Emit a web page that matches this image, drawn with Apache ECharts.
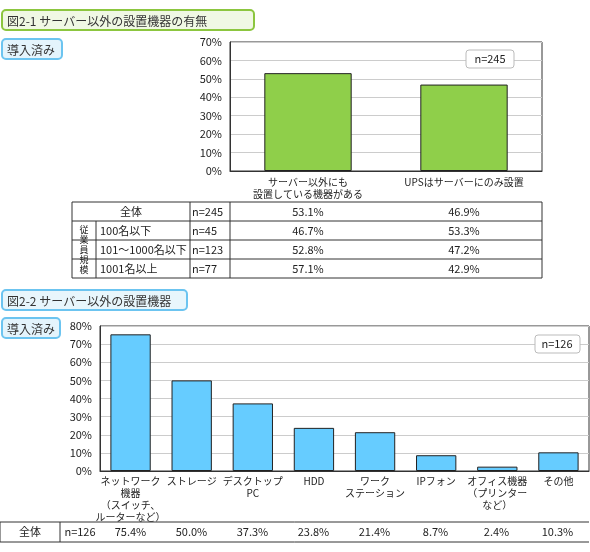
<!DOCTYPE html><html><head><meta charset="utf-8">
<script src="https://cdn.jsdelivr.net/npm/echarts@6/dist/echarts.min.js"></script>
<style>body{margin:0;background:#fff}#c{width:590px;height:552px}</style></head><body><div id="c"></div>
<script>
const cats1=['サーバー以外にも\n設置している機器がある','UPSはサーバーにのみ設置'];
const vals1=[53.1,46.9];
const rows1=[['全体','n=245',['53.1%','46.9%']],['100名以下','n=45',['46.7%','53.3%']],['101～1000名以下','n=123',['52.8%','47.2%']],['1001名以上','n=77',['57.1%','42.9%']]];
const cats2=['ネットワーク\n機器\n（スイッチ、\nルーターなど）','ストレージ','デスクトップ\nPC','HDD','ワーク\nステーション','IPフォン','オフィス機器\n（プリンター\nなど）','その他'];
const vals2=[75.4,50.0,37.3,23.8,21.4,8.7,2.4,10.3];
const tbl2=['75.4%','50.0%','37.3%','23.8%','21.4%','8.7%','2.4%','10.3%'];
const F='"Noto Sans CJK JP",sans-serif';
const ch=echarts.init(document.getElementById('c'));
const G=[];
function line(x1,y1,x2,y2){G.push({type:'line',z:100,shape:{x1,y1,x2,y2},style:{stroke:'#333',lineWidth:1}});}
function txt(x,y,t,align){G.push({type:'text',z:101,x,y,style:{text:t,font:'11px '+F,fill:'#222',align:align||'center',verticalAlign:'middle'}});}
function box(x,y,w,h,stroke,fill,t,fs){G.push({type:'rect',z:100,shape:{x,y,width:w,height:h,r:4},style:{stroke,fill,lineWidth:2}});
 G.push({type:'text',z:101,x:x+5,y:y+h/2+1,style:{text:t,font:(fs||12)+'px '+F,fill:'#333',verticalAlign:'middle'}});}
box(2,10,252,20,'#8cc63f','#f0f8e4','図2-1 サーバー以外の設置機器の有無');
box(2,39,60,20,'#6cc4f0','#e4f4fc','導入済み');
box(2,290,185,20,'#6cc4f0','#e8f6fc','図2-2 サーバー以外の設置機器');
box(2,318,58,20,'#6cc4f0','#e4f4fc','導入済み');
G.push({type:'rect',z:100,shape:{x:466,y:50,width:48,height:18,r:3},style:{stroke:'#bbb',fill:'#fff'}});txt(490,59,'n=245');
G.push({type:'rect',z:100,shape:{x:535,y:335,width:45,height:18,r:3},style:{stroke:'#bbb',fill:'#fff'}});txt(557,344,'n=126');
const ys=[202,221,240,259,278];
ys.forEach(y=>line(72,y,542,y));
line(72,202,72,278);line(96,221,96,278);line(190,202,190,278);line(230,202,230,278);line(542,202,542,278);
rows1.forEach((r,i)=>{const yc=(ys[i]+ys[i+1])/2;
 if(i==0)txt(131,yc,r[0]);else txt(100,yc,r[0],'left');
 txt(192,yc,r[1],'left');
 r[2].forEach((v,j)=>txt(230+156*j+78,yc,v));});
G.push({type:'text',z:101,x:84,y:250,style:{text:'従\n業\n員\n規\n模',font:'9px '+F,fill:'#222',align:'center',verticalAlign:'middle',lineHeight:10}});
line(0,522,589,522);line(0,542,589,542);line(0,522,0,542);line(60,522,60,542);
txt(30,532,'全体');txt(80,532,'n=126');
tbl2.forEach((v,i)=>txt(100+61*i+30.5,532,v));
const yl={fontFamily:F,fontSize:11,color:'#222',formatter:'{value}%'};
ch.setOption({animation:false,
 grid:[{left:230,right:48,top:42,bottom:381,show:true,borderColor:'#333'},{left:100,right:1,top:326,bottom:81,show:true,borderColor:'#333'}],
 xAxis:[{gridIndex:0,type:'category',data:cats1,axisLine:{lineStyle:{color:'#333'}},axisTick:{length:31,lineStyle:{color:'#333'}},axisLabel:{interval:0,fontFamily:F,fontSize:10,color:'#222',lineHeight:12,margin:5}},
  {gridIndex:1,type:'category',data:cats2,axisLine:{lineStyle:{color:'#333'}},axisTick:{length:71,lineStyle:{color:'#333'}},axisLabel:{interval:0,fontFamily:F,fontSize:10,color:'#222',lineHeight:12,margin:4,verticalAlign:'top'}}],
 yAxis:[{gridIndex:0,min:0,max:70,interval:10,axisLine:{show:true,lineStyle:{color:'#333'}},axisTick:{show:false},axisLabel:yl,splitLine:{lineStyle:{color:'#ccc'}}},
  {gridIndex:1,min:0,max:80,interval:10,axisLine:{show:true,lineStyle:{color:'#333'}},axisTick:{show:false},axisLabel:yl,splitLine:{lineStyle:{color:'#ccc'}}}],
 series:[{type:'bar',xAxisIndex:0,yAxisIndex:0,data:vals1,barWidth:'56%',itemStyle:{color:'#8fcf4a',borderColor:'#222',borderWidth:1}},
  {type:'bar',xAxisIndex:1,yAxisIndex:1,data:vals2,barWidth:'66%',itemStyle:{color:'#66ccff',borderColor:'#222',borderWidth:1}}],
 graphic:G});
</script></body></html>
